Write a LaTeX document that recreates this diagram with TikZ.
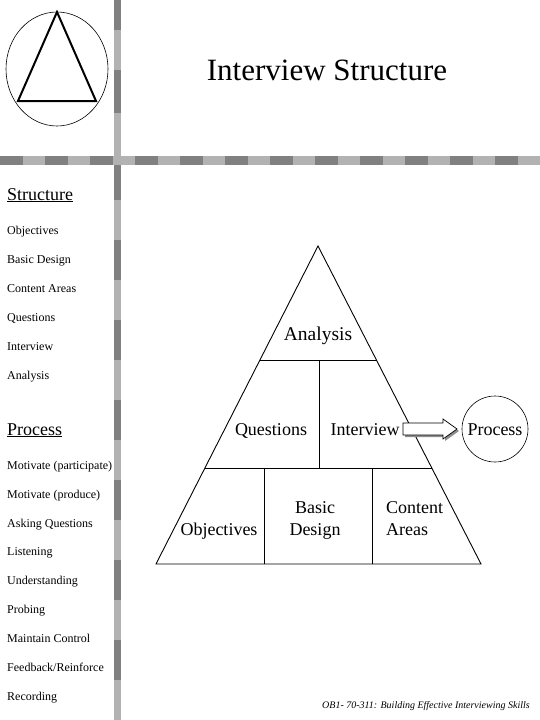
\documentclass[tikz,border=0pt]{standalone}
\usepackage{fontspec}
\setmainfont{Liberation Serif}
\begin{document}
\begin{tikzpicture}[x=1pt,y=-1pt,
  lbl/.style={inner sep=0pt,anchor=base west,font=\fontsize{12}{12}\selectfont},
  head/.style={inner sep=0pt,anchor=base west,font=\fontsize{18}{18}\selectfont},
  plbl/.style={inner sep=0pt,anchor=base,font=\fontsize{18}{18}\selectfont},
  dk/.style={fill=black!50,draw=none},
  lt/.style={fill=black!30,draw=none},
  edge/.style={draw=black,line width=0.9pt}]
\useasboundingbox (0,0) rectangle (540,720);
% vertical bar
\fill[lt] (114,0) rectangle (121,720);
\fill[dk] (114,0) rectangle (121,30);
\fill[dk] (114,70) rectangle (121,113);
\foreach \y in {160,240,...,640} {\fill[dk] (114,\y) rectangle (121,\y+40);}
% horizontal bar
\fill[lt] (0,156) rectangle (540,165);
\foreach \x in {0,45,...,495} {\fill[dk] (\x,156) rectangle (\x+22.5,165);}
% logo
\draw[line width=0.6pt] (57,69) ellipse [x radius=51, y radius=57];
\draw[line width=2pt,line join=miter] (57,12) -- (18,101) -- (96,101) -- cycle;
% title
\node[inner sep=0pt,anchor=base,font=\fontsize{31}{31}\selectfont] (title) at (327,80) {Interview Structure};
% left list
\node[head] (hs) at (7,200) {\underline{Structure}};
\node[lbl] (l1) at (7,234) {Objectives};
\node[lbl] (l2) at (7,263) {Basic Design};
\node[lbl] (l3) at (7,292) {Content Areas};
\node[lbl] (l4) at (7,321) {Questions};
\node[lbl] (l5) at (7,350) {Interview};
\node[lbl] (l6) at (7,379) {Analysis};
\node[head] (hp) at (7,435) {\underline{Process}};
\node[lbl] (p1) at (7,469) {Motivate (participate)};
\node[lbl] (p2) at (7,498) {Motivate (produce)};
\node[lbl] (p3) at (7,527) {Asking Questions};
\node[lbl] (p4) at (7,555) {Listening};
\node[lbl] (p5) at (7,584) {Understanding};
\node[lbl] (p6) at (7,613) {Probing};
\node[lbl] (p7) at (7,642) {Maintain Control};
\node[lbl] (p8) at (7,671) {Feedback/Reinforce};
\node[lbl] (p9) at (7,700) {Recording};
% pyramid
\coordinate (apex) at (318,246);
\coordinate (bl) at (156,564);
\coordinate (br) at (481,564);
\coordinate (m1l) at (260,360);
\coordinate (m1r) at (377,360);
\coordinate (m2l) at (205,468);
\coordinate (m2r) at (432,468);
\draw[edge] (apex) -- (bl) -- (br) -- cycle;
\draw[edge] (m1l) -- (m1r);
\draw[edge] (m2l) -- (m2r);
\draw[edge] (319,360) -- (319,468);
\draw[edge] (264,468) -- (264,564);
\draw[edge] (372,468) -- (372,564);
\node[plbl,font=\fontsize{19.5}{19.5}\selectfont] (ana) at (318,340) {Analysis};
\node[plbl] (que) at (271,435) {Questions};
\node[plbl] (int) at (365,435) {Interview};
\node[plbl] (obj) at (219,535) {Objectives};
\node[plbl,align=center,font=\fontsize{18}{22}\selectfont] (bd) at (315,535) {Basic\\Design};
\node[plbl,align=left,font=\fontsize{18}{22}\selectfont,anchor=base west] (ca) at (386,535) {Content\\Areas};
% process circle
\node[draw,circle,line width=0.6pt,minimum size=66pt,inner sep=0pt] (proc) at (495,429) {};
\node[plbl] (proctxt) at (495,435) {Process};
% block arrow
\fill[black!45] (405,425) -- (445,425) -- (445,422) -- (459,431) -- (445,441) -- (445,437) -- (405,437) -- cycle;
\draw[line width=0.7pt,fill=white] (403,423) -- (443,423) -- (443,419) -- (457,429) -- (443,439) -- (443,435) -- (403,435) -- cycle;
% footer
\node[inner sep=0pt,anchor=base west,font=\fontsize{10}{10}\selectfont\itshape] (foot) at (322,708) {OB1- 70-311: Building Effective Interviewing Skills};
\end{tikzpicture}
\end{document}
